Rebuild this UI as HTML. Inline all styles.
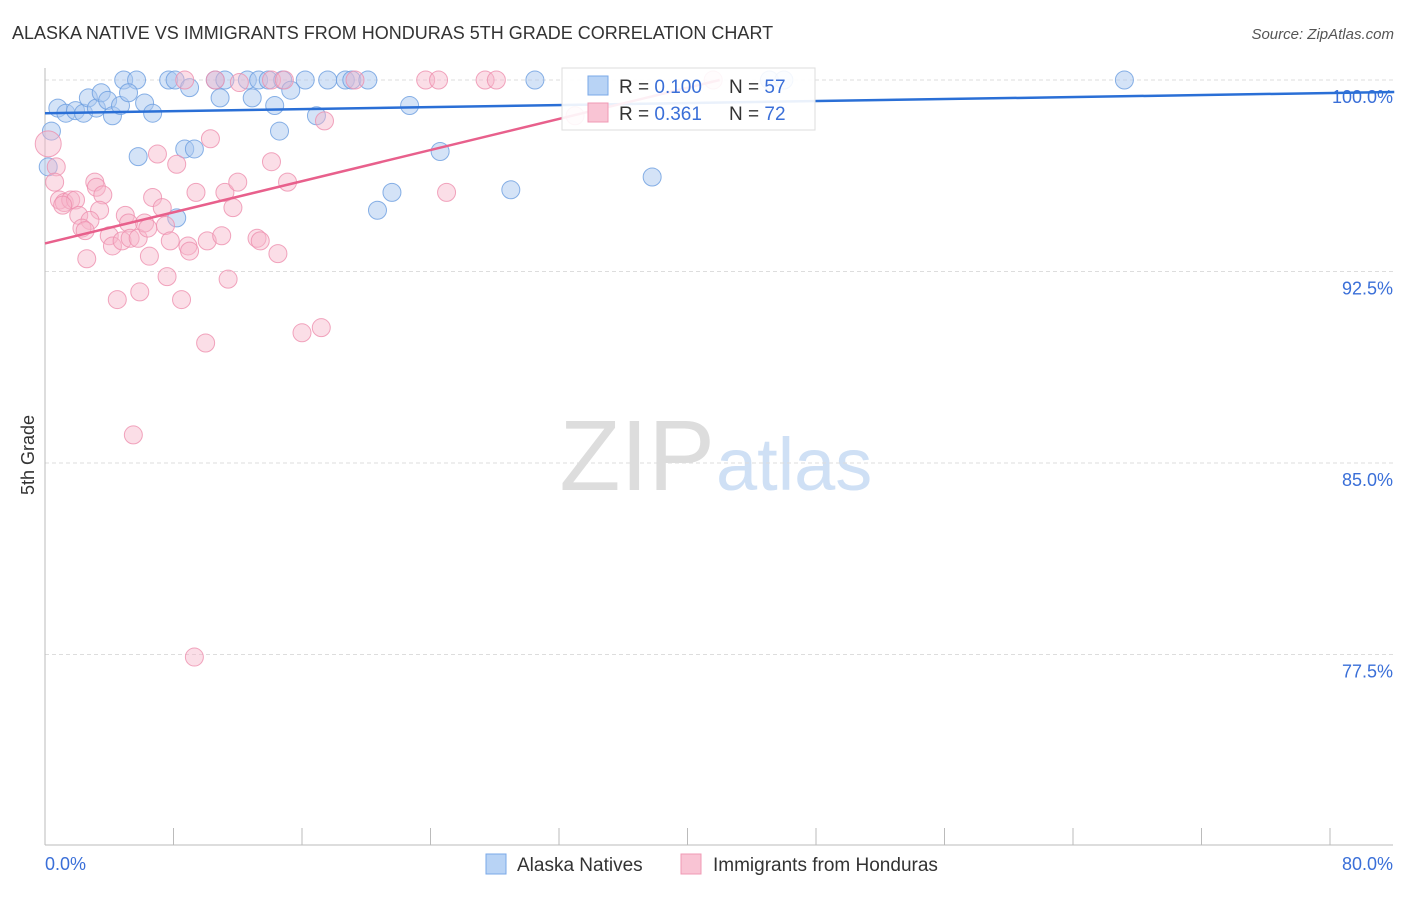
<!DOCTYPE html>
<html><head><meta charset="utf-8">
<style>
body{margin:0;background:#fff;font-family:"Liberation Sans",sans-serif;}
svg text{font-family:"Liberation Sans",sans-serif;}
</style></head>
<body>
<svg id="chart" width="1406" height="892">
<text x="12" y="39" font-size="18" fill="#333">ALASKA NATIVE VS IMMIGRANTS FROM HONDURAS 5TH GRADE CORRELATION CHART</text>
<text x="1394" y="39" font-size="15" fill="#555" font-style="italic" text-anchor="end">Source: ZipAtlas.com</text>
<text x="715" y="490" font-size="100" fill="#ddd" text-anchor="end" font-family="Liberation Serif">ZIP</text>
<text x="716" y="490" font-size="74" fill="#cfe0f5">atlas</text>
<text x="34" y="455" font-size="18" fill="#333" transform="rotate(-90 34 455)" text-anchor="middle">5th Grade</text>
<g id="grid"></g><g id="pts"></g><g id="lines"></g>
<g>
<rect x="562" y="68" width="253" height="62" fill="#fff" fill-opacity="0.9" stroke="#ddd"/>
<rect x="588" y="76" width="20" height="19" fill="#b8d3f5" stroke="#7aa8e8"/>
<rect x="588" y="103" width="20" height="19" fill="#f9c4d4" stroke="#f09ab4"/>
<text x="619" y="93" font-size="19" fill="#333">R = <tspan fill="#3a6fd8">0.100</tspan></text>
<text x="729" y="93" font-size="19" fill="#333">N = <tspan fill="#3a6fd8">57</tspan></text>
<text x="619" y="120" font-size="19" fill="#333">R = <tspan fill="#3a6fd8"> 0.361</tspan></text>
<text x="729" y="120" font-size="19" fill="#333">N = <tspan fill="#3a6fd8">72</tspan></text>
</g>
<g>
<rect x="486" y="854" width="20" height="20" fill="#b8d3f5" stroke="#7aa8e8"/>
<text x="517" y="871" font-size="19" fill="#333">Alaska Natives</text>
<rect x="681" y="854" width="20" height="20" fill="#f9c4d4" stroke="#f09ab4"/>
<text x="713" y="871" font-size="19" fill="#333">Immigrants from Honduras</text>
</g>
</svg>
<script>
const yTicks=[100,92.5,85,77.5];
const yTickLabels=["100.0%","92.5%","85.0%","77.5%"];
const xTickLabels=["0.0%","80.0%"];
const blueX=[4.9,5.7,7.7,8.1,10.6,11.2,12.6,13.3,13.9,14.8,16.2,17.6,18.7,19.1,20.1,30.5,67.2,0.8,1.3,1.9,2.4,2.7,3.2,3.5,3.9,4.2,4.7,5.2,6.2,6.7,9.0,10.9,12.9,14.3,15.3,16.9,22.7,0.4,14.6,0.2,5.8,8.7,9.3,24.6,8.2,20.7,21.6,29.0,37.8,45.1,46.0];
const blueY=[100,100,100,100,100,100,100,100,100,100,100,100,100,100,100,100,100,98.9,98.7,98.8,98.7,99.3,98.9,99.5,99.2,98.6,99.0,99.5,99.1,98.7,99.7,99.3,99.3,99.0,99.6,98.6,99.0,98.0,98.0,96.6,97.0,97.3,97.3,97.2,94.6,94.9,95.6,95.7,96.2,100,100];
const pinkX=[8.7,10.6,12.1,14.1,14.9,19.3,23.7,24.5,27.4,28.1,41.6,33.0,17.4,10.3,7.0,14.1,8.2,0.2,0.7,0.6,3.1,3.2,3.6,0.9,1.2,1.6,1.9,1.1,3.4,2.1,2.8,2.3,2.5,5.0,5.2,4.0,4.2,4.8,5.3,5.8,6.2,6.4,6.7,7.3,7.5,7.8,6.5,8.9,9.0,9.4,10.1,11.0,11.2,11.7,12.0,13.2,13.4,14.5,15.1,25.0,2.6,7.6,11.4,4.5,5.9,8.5,16.0,17.2,10.0,5.5,9.3];
const pinkY=[100,100,99.9,100,100,100,100,100,100,100,100,98.6,98.4,97.7,97.1,96.8,96.7,97.5,96.6,96.0,96.0,95.8,95.5,95.3,95.2,95.3,95.3,95.1,94.9,94.7,94.5,94.2,94.1,94.7,94.4,93.9,93.5,93.7,93.8,93.8,94.4,94.2,95.4,95.0,94.3,93.7,93.1,93.5,93.3,95.6,93.7,93.9,95.6,95.0,96.0,93.8,93.7,93.2,96.0,95.6,93.0,92.3,92.2,91.4,91.7,91.4,90.1,90.3,89.7,86.1,77.4];
const blueTrend=[[0,98.7],[84,99.53]];
const pinkTrend=[[0,93.6],[42,100]];
const X=v=>45+v/80*1285, Y=v=>80+(100-v)/7.5*191.5;
const NS="http://www.w3.org/2000/svg";
function mk(t,a,p){const e=document.createElementNS(NS,t);for(const k in a)e.setAttribute(k,a[k]);p.appendChild(e);return e;}
const grid=document.getElementById('grid');
yTicks.forEach((t,i)=>{
 const l=mk('line',{x1:45,x2:1393,y1:Y(t),y2:Y(t),stroke:'#ddd','stroke-dasharray':'4 3'},grid);
 
 
 const tx=mk('text',{x:1393,y:Y(t)+23,'font-size':18,fill:'#3a6fd8','text-anchor':'end'},grid);
 tx.textContent=yTickLabels[i];
 
 
});
const ax=mk('line',{x1:45,x2:45,y1:68,y2:845,stroke:'#bbb'},grid);


const bx=mk('line',{x1:45,x2:1393,y1:845,y2:845,stroke:'#bbb'},grid);


for(let i=0;i<=10;i++){const tk=mk('line',{x1:X(i*8),x2:X(i*8),y1:828,y2:845,stroke:'#bbb'},grid);
 
 }
[[0,'start',45],[1,'end',1393]].forEach(([i,a,x])=>{const t=mk('text',{x:x,y:870,'font-size':18,fill:'#3a6fd8','text-anchor':a},grid);t.textContent=xTickLabels[i];
 
 });
const pts=document.getElementById('pts');
blueX.forEach((v,i)=>{const c=mk('circle',{cx:X(v),cy:Y(blueY[i]),r:9,fill:'#a9c8f0','fill-opacity':0.5,stroke:'#6b9ee0','stroke-opacity':0.8},pts);
 
 });
pinkX.forEach((v,i)=>{const c=mk('circle',{cx:X(v),cy:Y(pinkY[i]),r:(i==17?13:9),fill:'#f7b6ca','fill-opacity':0.45,stroke:'#ee8fae','stroke-opacity':0.8},pts);
 
 });
const ln=document.getElementById('lines');
const b=mk('line',{x1:X(blueTrend[0][0]),y1:Y(blueTrend[0][1]),x2:X(blueTrend[1][0]),y2:Y(blueTrend[1][1]),stroke:'#2a6fd6','stroke-width':2.5},ln);


const p=mk('line',{x1:X(pinkTrend[0][0]),y1:Y(pinkTrend[0][1]),x2:X(pinkTrend[1][0]),y2:Y(pinkTrend[1][1]),stroke:'#e8608c','stroke-width':2.5},ln);


</script>
</body></html>
